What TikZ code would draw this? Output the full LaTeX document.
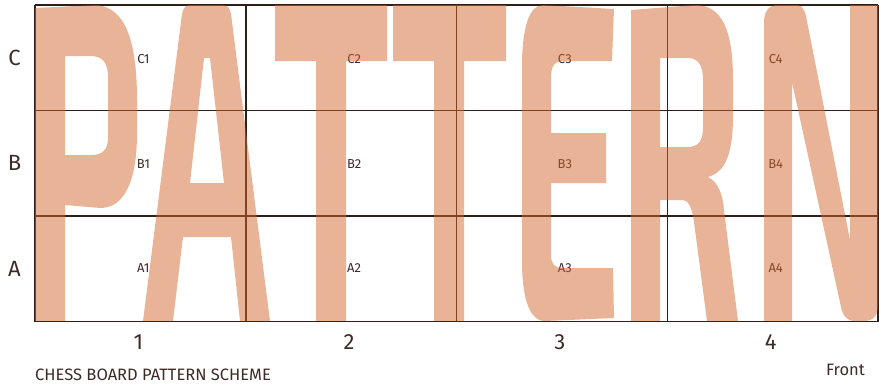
\documentclass[tikz,border=0pt]{standalone}
\usepackage{fontspec}
\setmainfont{Fira Sans}
\definecolor{gridline}{HTML}{2D1E1A}
\definecolor{labeltext}{HTML}{3D2B27}
\definecolor{letterfill}{HTML}{D1672D}
\begin{document}
\begin{tikzpicture}[x=1pt, y=-1pt]
    \tikzset{
        cell/.style={text=labeltext, font=\fontsize{13}{15}\selectfont, inner sep=0pt},
        axislabel/.style={text=labeltext, font=\fontsize{22}{24}\selectfont, inner sep=0pt},
        caption/.style={text=labeltext, font=\fontsize{16.5}{18}\selectfont, inner sep=0pt},
        boardline/.style={draw=gridline, line width=1.5pt},
        glyph/.style={fill=letterfill, fill opacity=0.5, even odd rule}
    }
    \useasboundingbox (0,0) rectangle (879,384);
    % board
    \foreach \i in {0,...,4}
        \draw[boardline] ({35+210.75*\i},5) -- ({35+210.75*\i},321.5);
    \foreach \j in {0,...,3}
        \draw[boardline] (35,{5+105.5*\j}) -- (878,{5+105.5*\j});
    % labels
    \foreach \r/\y in {C/57.5, B/163, A/268.5}
        \node[axislabel] (row-\r) at (14.5,\y) {\r};
    \foreach \c in {1,...,4}
        \node[axislabel] (col-\c) at ({35+210.75*(\c-0.5)-2},342) {\c};
    \foreach \r/\y in {C/59, B/164, A/268}
        \foreach \c in {1,...,4}
            \node[cell] (\r\c) at ({35+210.75*(\c-0.5)+3},\y) {\r\c};
    \node[caption, anchor=west] (title) at (35,374.5) {CHESS BOARD PATTERN SCHEME};
    \node[caption] (front) at (845.5,370) {Front};
    % big letters
    \fill[glyph] (35,8) -- (97,5) .. controls (125,8) and (137,40) .. (137,100) -- (137,133)
        .. controls (137,180) and (125,208) .. (100,208) -- (65,205) -- (65,321) -- (35,321) -- cycle
        (65,56) -- (90,56) .. controls (102,56) and (108,62) .. (108,77) -- (108,138)
        .. controls (108,150) and (102,155) .. (92,155) -- (65,155) -- cycle;
    \fill[glyph] (143,321) -- (182,14) .. controls (183,8) and (186,5) .. (190,5) -- (223,5)
        .. controls (227,5) and (230,8) .. (231,14) -- (270,321) -- (240,321) -- (231,237)
        -- (183,237) -- (173,321) -- cycle
        (204,58) -- (210,58) -- (224,183) -- (190,183) -- cycle;
    \fill[glyph] (275,5) -- (387,5) -- (387,61) -- (346,61) -- (346,321) -- (316,321)
        -- (316,61) -- (275,61) -- cycle;
    \fill[glyph] (393,5) -- (506,5) -- (506,61) -- (464,61) -- (464,321) -- (434,321)
        -- (434,61) -- (393,61) -- cycle;
    \fill[glyph] (543,5) -- (614,9) -- (612,61) -- (562,61) .. controls (555,61) and (551,66) .. (551,77)
        -- (551,133) -- (606,133) -- (606,183) -- (551,183) -- (551,255)
        .. controls (551,264) and (555,268) .. (562,268) -- (613,268) -- (614,318) -- (545,321)
        .. controls (530,321) and (522,300) .. (522,260) -- (522,67)
        .. controls (522,25) and (530,5) .. (543,5) -- cycle;
    \fill[glyph] (631,10) -- (695,5) .. controls (722,5) and (733,30) .. (733,80) -- (733,115)
        .. controls (733,155) and (725,172) .. (708,177) .. controls (718,182) and (723,195) .. (724,210)
        -- (738,321) -- (707,321) -- (694,222) .. controls (692,208) and (689,200) .. (682,200)
        -- (660,200) -- (660,321) -- (631,321) -- cycle
        (660,58) -- (688,58) .. controls (698,58) and (703,65) .. (703,80) -- (703,128)
        .. controls (703,141) and (698,147) .. (688,147) -- (660,147) -- cycle;
    \fill[glyph] (764,321) -- (764,22) .. controls (764,10) and (770,5) .. (778,5) -- (797,5)
        .. controls (802,5) and (804,9) .. (806,16) -- (850,240) -- (850,5) -- (878,5) -- (878,305)
        .. controls (878,316) and (873,321) .. (864,321) -- (855,321)
        .. controls (847,321) and (843,316) .. (841,307) -- (792,82) -- (792,321) -- cycle;
\end{tikzpicture}
\end{document}
